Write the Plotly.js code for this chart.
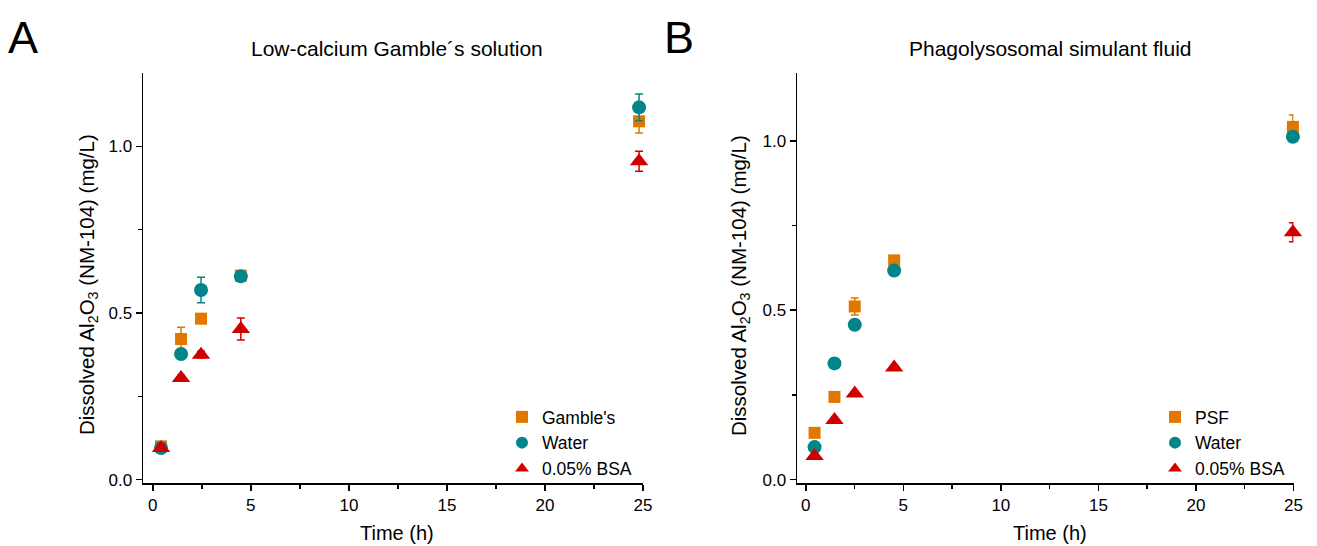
<!DOCTYPE html>
<html>
<head>
<meta charset="utf-8">
<script src="https://cdn.plot.ly/plotly-3.0.1.min.js"></script>
<style>html,body{margin:0;padding:0;background:#fff;}#chart{width:1317px;height:546px;}</style>
</head>
<body>
<div id="chart"></div>
<script>
// ---- Panel A: Low-calcium Gamble's solution ----
const timeA = [0.42, 1.44, 2.46, 4.49, 24.8];
const gambleA = [0.10, 0.422, 0.483, 0.612, 1.075];
const gambleErrA = [0.008, 0.035, 0.012, 0.010, 0.035];
const waterA = [0.095, 0.377, 0.569, 0.610, 1.117];
const waterErrA = [0.008, 0.010, 0.038, 0.010, 0.040];
const bsaA = [0.095, 0.305, 0.375, 0.452, 0.955];
const bsaErrA = [0.010, 0.008, 0.010, 0.033, 0.030];

// ---- Panel B: Phagolysosomal simulant fluid ----
const timeB = [0.45, 1.47, 2.51, 4.53, 24.97];
const psfB = [0.138, 0.244, 0.511, 0.647, 1.041];
const psfErrB = [0.005, 0.005, 0.025, 0.008, 0.035];
const waterB = [0.096, 0.343, 0.457, 0.617, 1.012];
const waterErrB = [0.005, 0.005, 0.008, 0.008, 0.010];
const bsaB = [0.070, 0.176, 0.254, 0.331, 0.730];
const bsaErrB = [0.005, 0.005, 0.005, 0.005, 0.028];

const ORANGE = '#E07800', TEAL = '#00868A', RED = '#D00000';
const FONT = 'Liberation Sans, Arial, sans-serif';

function tr(x, y, err, name, color, symbol, size, xa, ya, leg) {
  return {
    x: x, y: y, name: name, type: 'scatter', mode: 'markers',
    xaxis: xa, yaxis: ya, legend: leg, cliponaxis: false,
    marker: {color: color, symbol: symbol, size: size, line: {width: 0}},
    error_y: {type: 'data', array: err, visible: true, color: color, thickness: 1.5, width: 4}
  };
}

const data = [
  tr(timeA, gambleA, gambleErrA, "Gamble's", ORANGE, 'square', 12, 'x', 'y', 'legend'),
  tr(timeA, waterA, waterErrA, 'Water', TEAL, 'circle', 14, 'x', 'y', 'legend'),
  tr(timeA, bsaA, bsaErrA, '0.05% BSA', RED, 'triangle-up', 16, 'x', 'y', 'legend'),
  tr(timeB, psfB, psfErrB, 'PSF', ORANGE, 'square', 12, 'x2', 'y2', 'legend2'),
  tr(timeB, waterB, waterErrB, 'Water', TEAL, 'circle', 14, 'x2', 'y2', 'legend2'),
  tr(timeB, bsaB, bsaErrB, '0.05% BSA', RED, 'triangle-up', 16, 'x2', 'y2', 'legend2')
];

const W = 1317, H = 546;
const yDom = [1 - 483 / H, 1 - 73 / H];

function xax(dom, range) {
  return {
    domain: dom, range: range, showgrid: false, zeroline: false,
    showline: true, linecolor: '#000', linewidth: 1.5, mirror: false,
    ticks: 'outside', ticklen: 6, tickwidth: 1.5, tickcolor: '#000',
    tickvals: [0, 5, 10, 15, 20, 25],
    minor: {tickvals: [2.5, 7.5, 12.5, 17.5, 22.5], ticks: 'outside', ticklen: 4, tickwidth: 1.5, tickcolor: '#000'},
    tickfont: {family: FONT, size: 17, color: '#000'}, fixedrange: true
  };
}
function yax(dom, range, anchor) {
  return {
    domain: dom, range: range, anchor: anchor, showgrid: false, zeroline: false,
    showline: true, linecolor: '#000', linewidth: 1.5,
    ticks: 'outside', ticklen: 6, tickwidth: 1.5, tickcolor: '#000',
    tickvals: [0, 0.5, 1.0], ticktext: ['0.0', '0.5', '1.0'],
    minor: {tickvals: [0.25, 0.75], ticks: 'outside', ticklen: 4, tickwidth: 1.5, tickcolor: '#000'},
    tickfont: {family: FONT, size: 17, color: '#000'}, fixedrange: true
  };
}

const xA = xax([143 / W, 643 / W], [-0.5, 25]);
xA.anchor = 'y';
const xB = xax([797 / W, 1293.5 / W], [-0.45, 25]);
xB.anchor = 'y2';

const ytitle = 'Dissolved Al<sub>2</sub>O<sub>3</sub> (NM-104) (mg/L)';

const legendStyle = {
  font: {family: FONT, size: 17.5, color: '#000'}, bgcolor: 'rgba(0,0,0,0)',
  tracegroupgap: 0, itemsizing: 'constant', itemwidth: 30
};

const layout = {
  width: W, height: H,
  margin: {l: 0, r: 0, t: 0, b: 0},
  paper_bgcolor: '#fff', plot_bgcolor: '#fff',
  font: {family: FONT, color: '#000'},
  xaxis: xA,
  yaxis: yax(yDom, [-0.01, 1.22], 'x'),
  xaxis2: xB,
  yaxis2: yax(yDom, [-0.01, 1.2], 'x2'),
  legend: Object.assign({x: 502 / W, y: 1 - 399 / H, xanchor: 'left', yanchor: 'top'}, legendStyle),
  legend2: Object.assign({x: 1155 / W, y: 1 - 399 / H, xanchor: 'left', yanchor: 'top'}, legendStyle),
  annotations: [
    {text: 'A', x: 6 / W, y: 1 - 10 / H, xref: 'paper', yref: 'paper', xanchor: 'left', yanchor: 'top', showarrow: false, font: {family: FONT, size: 45, color: '#000'}},
    {text: 'B', x: 662 / W, y: 1 - 10 / H, xref: 'paper', yref: 'paper', xanchor: 'left', yanchor: 'top', showarrow: false, font: {family: FONT, size: 45, color: '#000'}},
    {text: 'Low-calcium Gamble´s solution', x: 397 / W, y: 1 - 48 / H, xref: 'paper', yref: 'paper', xanchor: 'center', yanchor: 'middle', showarrow: false, font: {family: FONT, size: 21, color: '#000'}},
    {text: 'Phagolysosomal simulant fluid', x: 1050 / W, y: 1 - 48 / H, xref: 'paper', yref: 'paper', xanchor: 'center', yanchor: 'middle', showarrow: false, font: {family: FONT, size: 21, color: '#000'}},
    {text: 'Time (h)', x: 397 / W, y: 1 - 533 / H, xref: 'paper', yref: 'paper', xanchor: 'center', yanchor: 'middle', showarrow: false, font: {family: FONT, size: 20, color: '#000'}},
    {text: 'Time (h)', x: 1050 / W, y: 1 - 533 / H, xref: 'paper', yref: 'paper', xanchor: 'center', yanchor: 'middle', showarrow: false, font: {family: FONT, size: 20, color: '#000'}},
    {text: ytitle, x: 88 / W, y: 1 - 285 / H, xref: 'paper', yref: 'paper', xanchor: 'center', yanchor: 'middle', textangle: -90, showarrow: false, font: {family: FONT, size: 20.5, color: '#000'}},
    {text: ytitle, x: 740 / W, y: 1 - 285 / H, xref: 'paper', yref: 'paper', xanchor: 'center', yanchor: 'middle', textangle: -90, showarrow: false, font: {family: FONT, size: 20.5, color: '#000'}}
  ]
};

Plotly.newPlot('chart', data, layout, {displayModeBar: false, staticPlot: true});
</script>
</body>
</html>
